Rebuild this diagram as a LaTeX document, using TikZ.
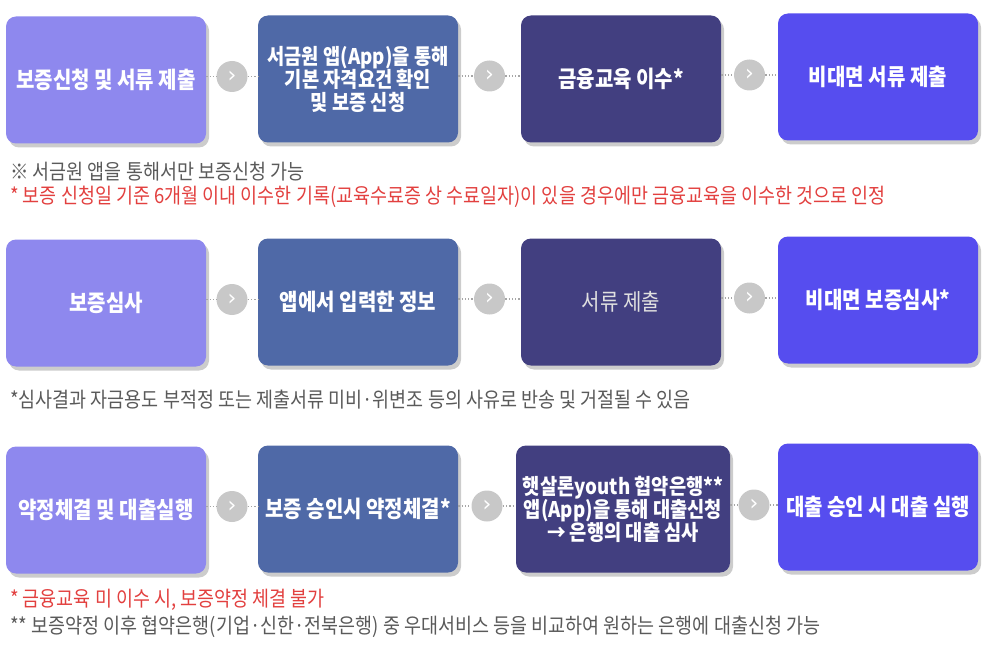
\documentclass[tikz,border=0pt]{standalone}
\usepackage{fontspec}
\setmainfont{Noto Sans CJK KR}
\newfontfamily\boxfont[FakeStretch=0.87]{Noto Sans CJK KR}
\newfontfamily\notefont[FakeStretch=0.88]{Noto Sans CJK KR}
\newfontfamily\chevfont{DejaVu Sans}
\usetikzlibrary{shadows,calc}

\definecolor{stepone}{HTML}{8E88EE}
\definecolor{steptwo}{HTML}{4F69A7}
\definecolor{stepthree}{HTML}{423F80}
\definecolor{stepfour}{HTML}{564DEF}
\definecolor{linkgray}{HTML}{C8C8C8}
\definecolor{notered}{HTML}{E2403F}
\definecolor{notegray}{HTML}{5A5A5A}

\begin{document}
\begin{tikzpicture}[x=1pt, y=-1pt,
  stepbox/.style={rounded corners=10pt, minimum width=200pt, minimum height=127pt,
    inner sep=2pt, align=center, text=white,
    font=\boxfont\bfseries\fontsize{23}{23}\selectfont,
    drop shadow={shadow xshift=3pt, shadow yshift=-4pt, fill=black, opacity=0.2}},
  softtext/.style={font=\boxfont\fontsize{23}{23}\selectfont, text=black!12},
  smalltext/.style={font=\boxfont\bfseries\fontsize{21.5}{23}\selectfont},
  linkdot/.style={circle, fill=linkgray, minimum size=31pt, inner sep=0pt,
    text=white, font=\chevfont\fontsize{22}{22}\selectfont},
  linkline/.style={draw=black!35, line width=1.3pt, dotted},
  note/.style={anchor=west, inner sep=0pt, font=\notefont\fontsize{21}{21}\selectfont, text=notegray},
  rednote/.style={note, text=notered}]

\useasboundingbox (0,0) rectangle (990,647);

%link two steps with a grey circle
%  circle sits half way, lines go box -> circle -> box
\newcommand{\steplink}[2]{
        \node[linkdot] (#1#2) at ($(#1.east)!0.5!(#2.west)+(0,-3)$) {›};
        \draw[linkline] (#1.east |- #1#2.west) -- (#1#2.west);
        \draw[linkline] (#1#2.east) -- (#2.west |- #1#2.east);
}

%%first row
\node[stepbox, fill=stepone] (a1) at (106,80) {보증신청 및 서류 제출};
\node[stepbox, fill=steptwo, smalltext] (a2) at (358,79) {서금원 앱(App)을 통해\\기본 자격요건 확인\\및 보증 신청};
\node[stepbox, fill=stepthree] (a3) at (621,79) {금융교육 이수*};
\node[stepbox, fill=stepfour] (a4) at (878,77) {비대면 서류 제출};
\steplink{a1}{a2}
\steplink{a2}{a3}
\steplink{a3}{a4}

\node[note] (n1) at (10,172) {※ 서금원 앱을 통해서만 보증신청 가능};
\node[rednote] (n2) at (10,197) {* 보증 신청일 기준 6개월 이내 이수한 기록(교육수료증 상 수료일자)이 있을 경우에만 금융교육을 이수한 것으로 인정};

%%second row
\node[stepbox, fill=stepone] (b1) at (106,303) {보증심사};
\node[stepbox, fill=steptwo] (b2) at (358,302) {앱에서 입력한 정보};
\node[stepbox, fill=stepthree, softtext] (b3) at (621,302) {서류 제출};
\node[stepbox, fill=stepfour] (b4) at (878,300) {비대면 보증심사*};
\steplink{b1}{b2}
\steplink{b2}{b3}
\steplink{b3}{b4}

\node[note] (n3) at (10,400) {*심사결과 자금용도 부적정 또는 제출서류 미비·위변조 등의 사유로 반송 및 거절될 수 있음};

%%third row
\node[stepbox, fill=stepone] (c1) at (106,510) {약정체결 및 대출실행};
\node[stepbox, fill=steptwo] (c2) at (358,509) {보증 승인시 약정체결*};
\node[stepbox, fill=stepthree, smalltext, minimum width=214pt] (c3) at (623,509) {햇살론youth 협약은행**\\앱(App)을 통해 대출신청\\→ 은행의 대출 심사};
\node[stepbox, fill=stepfour] (c4) at (878,507) {대출 승인 시 대출 실행};
\steplink{c1}{c2}
\steplink{c2}{c3}
\steplink{c3}{c4}

\node[rednote] (n4) at (10,600) {* 금융교육 미 이수 시, 보증약정 체결 불가};
\node[note] (n5) at (10,627) {** 보증약정 이후 협약은행(기업·신한·전북은행) 중 우대서비스 등을 비교하여 원하는 은행에 대출신청 가능};

\end{tikzpicture}
\end{document}
